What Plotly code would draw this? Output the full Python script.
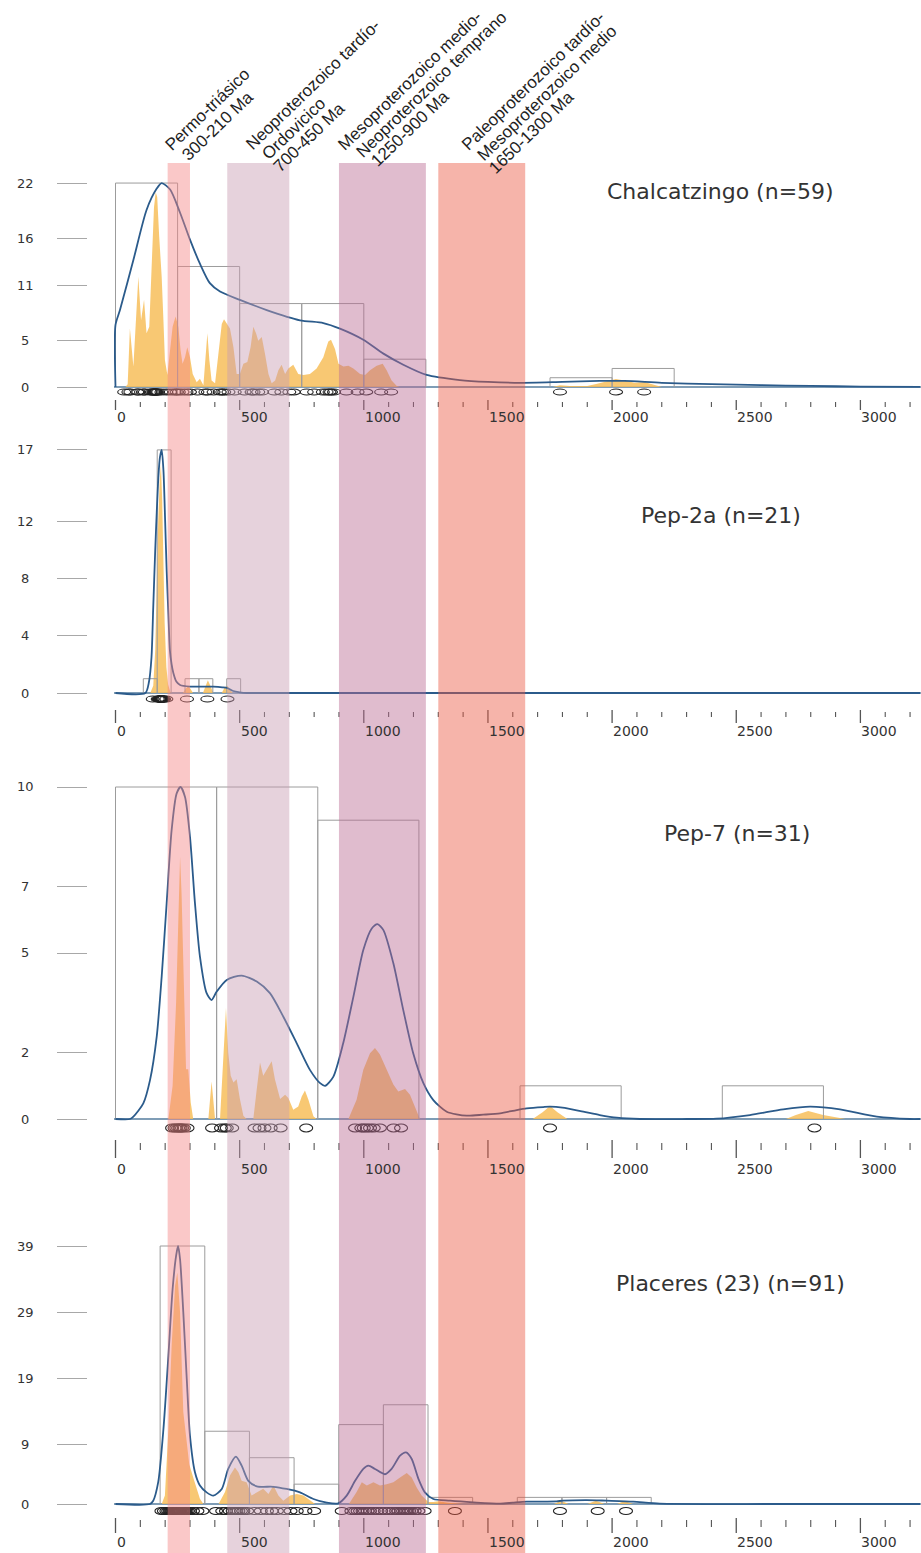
import math
import plotly.graph_objects as go

# ---------------- data ----------------
band_ranges = [(210, 300), (450, 700), (900, 1250), (1300, 1650)]
band_colors = ["rgb(244,132,132)", "rgb(199,155,177)", "rgb(186,106,146)", "rgb(235,88,66)"]
band_label_lines = [
    ["Permo-triásico", "300-210 Ma"],
    ["Neoproterozoico tardío-", "Ordovicico", "700-450 Ma"],
    ["Mesoproterozoico medio-", "Neoproterozoico temprano", "1250-900 Ma"],
    ["Paleoproterozoico tardío-", "Mesoproterozoico medio", "1650-1300 Ma"],
]
panel_titles = ["Chalcatzingo (n=59)", "Pep-2a (n=21)", "Pep-7 (n=31)", "Placeres (23) (n=91)"]

x_major = [0, 500, 1000, 1500, 2000, 2500, 3000]
x_minor = [v for v in range(100, 3300, 100) if v % 500]

# Panel 1 - Chalcatzingo
p1_ages = [35, 52, 60, 88, 92, 112, 118, 140, 146, 152, 155, 158, 160, 162, 164, 167, 172, 185, 205, 222, 238, 246,
           255, 270, 286, 300, 330, 362, 372, 395, 420, 430, 438, 455, 480,
           520, 548, 556, 575, 590, 640, 668, 700, 718,
           770, 800, 835, 850, 862, 868, 880, 930, 975,
           1010, 1070, 1110, 1790, 2016, 2129]
p1_bin_width = 250
p1_counts = [22, 13, 9, 9, 3, 0, 0, 1, 2]
p1_yticks = [0, 5, 11, 16, 22]
p1_kde = [(0, 0), (0, 6.7), (18, 8.3), (72, 13.7), (125, 19.1), (166, 21.4), (186, 22.0), (220, 21.3), (260, 18.8),
          (300, 15.9), (340, 13.3), (380, 11.2), (421, 10.3), (501, 9.4), (609, 8.3), (743, 7.2), (837, 6.9),
          (904, 6.3), (998, 5.1), (1079, 3.6), (1159, 2.4), (1253, 1.3), (1387, 0.75), (1500, 0.55), (1630, 0.45),
          (1800, 0.55), (1950, 0.65), (2050, 0.65), (2200, 0.45), (2400, 0.3), (2600, 0.2), (2800, 0.12),
          (3000, 0.05), (3240, 0.02)]
p1_pdp = [(40, 0), (49, 0.3), (58, 6.3), (72, 2.2), (92, 11.9), (103, 7.2), (115, 9.4), (125, 5.8), (136, 6.5),
          (146, 13.7), (155, 19.4), (162, 21.0), (168, 20.5), (176, 16.2), (186, 11.9), (193, 7.2), (199, 2.9),
          (209, 1.3), (219, 3.6), (230, 6.5), (242, 7.6), (253, 6.5), (262, 4.0), (270, 2.5), (280, 3.2),
          (289, 4.3), (300, 3.2), (311, 1.4), (327, 0.5), (340, 0.9), (354, 0.2), (363, 2.9), (370, 5.8),
          (378, 2.9), (387, 0.7), (401, 0.4), (414, 3.6), (428, 6.8), (437, 7.3), (448, 6.8), (461, 6.3),
          (475, 4.3), (488, 1.4), (501, 1.4), (515, 2.5), (531, 2.7), (544, 4.3), (555, 6.5), (566, 5.8),
          (575, 5.0), (589, 5.4), (602, 3.6), (616, 1.4), (629, 0.4), (643, 0.7), (656, 1.8), (669, 2.4),
          (683, 1.4), (696, 2.0), (716, 2.4), (736, 1.4), (757, 1.3), (783, 1.4), (810, 2.0), (837, 3.2),
          (857, 4.9), (868, 5.1), (884, 4.1), (898, 2.5), (918, 2.2), (938, 2.3), (958, 2.0), (985, 1.4),
          (1005, 1.3), (1025, 1.8), (1052, 2.3), (1076, 2.5), (1092, 1.8), (1112, 0.7), (1133, 0.1), (1145, 0),
          (1760, 0), (1790, 0.2), (1830, 0.1), (1900, 0.1), (1940, 0.35), (1980, 0.6), (2015, 0.85), (2050, 0.7),
          (2090, 0.45), (2130, 0.55), (2170, 0.2), (2200, 0)]

# Panel 2 - Pep-2a
p2_ages = [150, 170, 174, 176, 178, 180, 181, 182, 183, 184, 185, 186, 187, 188, 190, 192, 196, 205, 288, 370, 451]
p2_bin_width = 56
p2_counts = [0, 0, 1, 17, 0, 1, 1, 0, 1]
p2_yticks = [0, 4, 8, 12, 17]
p2_kde = [(0, 0), (120, 0), (135, 0.8), (145, 2.5), (152, 6.0), (160, 10.0), (166, 12.6), (173, 15.2), (179, 16.5),
          (186, 17.0), (193, 15.6), (200, 12.0), (206, 8.6), (213, 5.5), (219, 3.0), (226, 2.0), (233, 1.4),
          (245, 0.8), (260, 0.56), (300, 0.45), (350, 0.44), (394, 0.44), (430, 0.4), (450, 0.35), (474, 0.14),
          (500, 0.05), (528, 0), (3240, 0)]
p2_pdp = [(140, 0), (152, 0.5), (160, 3.0), (166, 8.0), (172, 12.0), (178, 14.8), (183, 16.0), (188, 13.5),
          (193, 8.5), (198, 4.9), (205, 1.8), (212, 0.6), (222, 0), (272, 0), (282, 0.3), (292, 0.45), (302, 0.3),
          (312, 0), (352, 0), (362, 0.5), (372, 0.9), (382, 0.5), (394, 0), (428, 0), (440, 0.4), (450, 0.5),
          (462, 0.2), (472, 0)]

# Panel 3 - Pep-7
p3_ages = [228, 238, 245, 252, 258, 262, 268, 275, 290, 389,
           425, 440, 448, 470, 560, 580, 600, 625, 665, 768,
           965, 990, 1000, 1012, 1025, 1040, 1065, 1120, 1150,
           1750, 2815]
p3_bin_width = 407.3
p3_counts = [10, 10, 9, 0, 1, 0, 1]
p3_yticks = [0, 2, 5, 7, 10]
p3_kde = [(0, 0), (58, 0), (72, 0.07), (112, 0.47), (139, 1.17), (166, 2.48), (186, 4.29), (206, 6.5), (226, 8.7),
          (246, 9.8), (262, 10.0), (280, 9.7), (300, 8.5), (320, 6.5), (340, 4.9), (367, 3.79), (387, 3.58),
          (407, 3.83), (448, 4.19), (508, 4.32), (569, 4.14), (622, 3.79), (676, 3.08), (730, 2.28), (783, 1.48),
          (824, 1.08), (844, 1.0), (877, 1.27), (917, 2.28), (958, 3.68), (998, 5.09), (1032, 5.74), (1055, 5.87),
          (1079, 5.69), (1119, 4.69), (1159, 3.28), (1199, 1.98), (1240, 1.08), (1280, 0.57), (1334, 0.22),
          (1414, 0.1), (1481, 0.13), (1549, 0.17), (1616, 0.27), (1656, 0.32), (1723, 0.36), (1750, 0.37),
          (1800, 0.34), (1884, 0.22), (1950, 0.12), (2019, 0.04), (2112, 0), (2300, 0), (2421, 0.01),
          (2555, 0.12), (2689, 0.29), (2797, 0.37), (2918, 0.29), (3066, 0.07), (3200, 0), (3240, 0)]
p3_pdp = [(213, 0), (230, 1.0), (244, 3.5), (253, 6.5), (260, 7.9), (266, 6.8), (276, 3.5), (284, 1.5), (293, 1.5),
          (303, 0.5), (313, 0), (374, 0), (387, 1.13), (401, 0), (421, 0), (434, 2.0), (445, 3.34), (454, 2.0),
          (464, 1.3), (475, 1.1), (488, 1.2), (501, 0.6), (515, 0.1), (528, 0), (555, 0), (569, 0.9), (582, 1.7),
          (595, 1.3), (609, 1.5), (629, 1.74), (642, 1.2), (663, 0.6), (683, 0.73), (696, 0.63), (716, 0.28),
          (736, 0.38), (750, 0.68), (763, 0.86), (777, 0.58), (797, 0.08), (810, 0), (938, 0), (971, 0.58),
          (998, 1.48), (1025, 1.98), (1045, 2.14), (1065, 1.94), (1092, 1.48), (1119, 1.04), (1139, 0.83),
          (1166, 0.9), (1186, 0.73), (1206, 0.38), (1226, 0), (1680, 0), (1720, 0.2), (1750, 0.39), (1780, 0.2),
          (1820, 0), (2700, 0), (2740, 0.12), (2790, 0.24), (2850, 0.12), (2940, 0)]

# Panel 4 - Placeres (23)
p4_ages = [185, 195, 205, 212, 218, 222, 226, 229, 232, 235, 237, 239, 241, 243, 245, 246, 248, 249, 250, 251,
           252, 253, 254, 255, 257, 259, 261, 263, 266, 269, 272, 276, 280, 286, 292, 300, 312, 330, 350,
           405, 430, 445, 460, 472, 480, 487, 495, 505, 515, 530,
           560, 585, 610, 630, 650, 680, 705,
           730, 765, 800,
           911, 950, 965, 975, 985, 995, 1005, 1015, 1025, 1040, 1055, 1070,
           1085, 1100, 1115, 1130, 1140, 1150, 1158, 1165, 1170, 1176, 1183, 1192, 1205, 1220, 1245,
           1367, 1790, 1942, 2056]
p4_bin_width = 179.8
p4_counts = [0, 39, 11, 7, 3, 12, 15, 1, 0, 1, 1, 1]
p4_yticks = [0, 9, 19, 29, 39]
p4_kde = [(0, 0), (139, 0), (152, 0.5), (172, 3.3), (193, 11.3), (213, 22.4), (230, 32.5), (244, 37.5), (252, 39.0),
          (260, 37.0), (273, 29.0), (287, 18.9), (300, 10.3), (320, 4.8), (340, 2.8), (367, 1.76), (394, 1.26),
          (428, 2.27), (454, 5.3), (485, 7.15), (508, 5.8), (535, 3.5), (569, 2.67), (636, 2.6), (689, 2.27),
          (743, 1.76), (797, 0.76), (851, 0.2), (897, 0.1), (931, 1.26), (965, 3.5), (998, 5.3), (1018, 5.8),
          (1045, 5.3), (1085, 4.5), (1112, 5.3), (1146, 7.3), (1170, 7.8), (1193, 6.8), (1220, 3.8), (1246, 1.76),
          (1280, 0.76), (1347, 0.5), (1441, 0.25), (1549, 0.05), (1600, 0.2), (1656, 0.35), (1777, 0.4),
          (1800, 0.5), (1897, 0.6), (1978, 0.5), (2085, 0.35), (2192, 0.05), (2661, 0), (3240, 0)]
p4_pdp = [(186, 0), (199, 1.3), (213, 11.3), (226, 23.9), (240, 33.0), (249, 35.0), (260, 29.0), (273, 13.9),
          (284, 10.3), (297, 6.0), (313, 4.0), (327, 2.3), (340, 0.8), (354, 0), (415, 0), (441, 1.8), (461, 4.3),
          (481, 5.5), (495, 4.8), (508, 3.5), (528, 3.3), (548, 1.3), (569, 1.8), (595, 2.3), (616, 1.5),
          (636, 2.8), (656, 1.3), (676, 0.5), (703, 1.3), (730, 1.5), (757, 1.3), (783, 0.5), (804, 0), (940, 0),
          (971, 1.8), (992, 3.3), (1012, 2.8), (1039, 3.3), (1065, 2.8), (1092, 3.0), (1119, 3.3), (1146, 4.0),
          (1173, 4.7), (1193, 4.0), (1213, 2.5), (1233, 1.3), (1260, 0.3), (1280, 0.3), (1300, 0.4), (1340, 0.2),
          (1400, 0), (1765, 0), (1795, 0.5), (1825, 0), (1900, 0), (1935, 0.5), (1970, 0), (2020, 0),
          (2050, 0.45), (2085, 0)]

panels = [
    dict(ages=p1_ages, bw=p1_bin_width, counts=p1_counts, yticks=p1_yticks, kde=p1_kde, pdp=p1_pdp),
    dict(ages=p2_ages, bw=p2_bin_width, counts=p2_counts, yticks=p2_yticks, kde=p2_kde, pdp=p2_pdp),
    dict(ages=p3_ages, bw=p3_bin_width, counts=p3_counts, yticks=p3_yticks, kde=p3_kde, pdp=p3_pdp),
    dict(ages=p4_ages, bw=p4_bin_width, counts=p4_counts, yticks=p4_yticks, kde=p4_kde, pdp=p4_pdp),
]

# ---------------- layout constants (pixels) ----------------
W, H = 921, 1553
X0_PX, PX_PER_MA = 115.5, 0.2483
X_LEFT_PX = 114
geom = [
    dict(base=387, top=163, scale=9.27, maj=(400, 410), mnr=(402, 407), lab=417, ell=392, ellh=6),
    dict(base=693, top=440, scale=14.3, maj=(710, 723), mnr=(712, 717), lab=731, ell=699, ellh=6),
    dict(base=1119, top=770, scale=33.2, maj=(1140, 1158), mnr=(1143, 1150), lab=1169, ell=1128, ellh=8),
    dict(base=1504, top=1230, scale=6.615, maj=(1518, 1533), mnr=(1520, 1527), lab=1542, ell=1511, ellh=7),
]
title_px = [(720, 191), (721, 515), (737, 833), (730, 1283)]
# rotated band labels: start of first line (px), per-line perpendicular offset and along-line offset
label_start_px = [(167, 149), (248, 148), (340, 148), (464, 148)]
label_perp = [0, 18, 35]
label_along = [[0, 5], [0, 5, 4], [0, 8, 12], [0, 3, 3]]
LABEL_ANGLE = 44
LABEL_FS = 17
BAND_TOP_PX = 163
ELL_HALF_W = 6.5 / PX_PER_MA


def py(p):
    return 1 - p / H


xmin = (X_LEFT_PX - X0_PX) / PX_PER_MA
xmax = (W - X0_PX) / PX_PER_MA

ORANGE = "rgba(247,190,90,0.85)"
BLUE = "#2b5b8b"
BOX = "#9c9c9c"

fig = go.Figure()
shapes = []
annotations = []
layout = {}

for k, (pan, g) in enumerate(zip(panels, geom), start=1):
    xa = "x" if k == 1 else f"x{k}"
    ya = "y" if k == 1 else f"y{k}"
    # PDP (orange)
    fig.add_trace(go.Scatter(x=[a for a, _ in pan["pdp"]], y=[v for _, v in pan["pdp"]],
                             mode="lines", line=dict(width=0, color=ORANGE), fill="tozeroy",
                             fillcolor=ORANGE, xaxis=xa, yaxis=ya, hoverinfo="skip", showlegend=False))
    # histogram boxes
    bx, by = [], []
    for i, c in enumerate(pan["counts"]):
        if c <= 0:
            continue
        x0, x1 = i * pan["bw"], (i + 1) * pan["bw"]
        bx += [x0, x0, x1, x1, None]
        by += [0, c, c, 0, None]
    fig.add_trace(go.Scatter(x=bx, y=by, mode="lines", line=dict(width=1, color=BOX),
                             xaxis=xa, yaxis=ya, hoverinfo="skip", showlegend=False))
    # KDE (blue)
    fig.add_trace(go.Scatter(x=[a for a, _ in pan["kde"]], y=[v for _, v in pan["kde"]],
                             mode="lines", line=dict(width=1.8, color=BLUE, shape="spline", smoothing=0.7),
                             xaxis=xa, yaxis=ya, hoverinfo="skip", showlegend=False))

    layout[("xaxis" if k == 1 else f"xaxis{k}")] = dict(
        domain=[X_LEFT_PX / W, 1], range=[xmin, xmax], visible=False, anchor=ya, fixedrange=True)
    layout[("yaxis" if k == 1 else f"yaxis{k}")] = dict(
        domain=[py(g["base"] + 3), py(g["top"])],
        range=[-3 / g["scale"], (g["base"] - g["top"]) / g["scale"]],
        anchor="free", position=87 / W, ticks="outside", ticklen=30, tickwidth=1, tickcolor="#a8a8a8",
        tickvals=pan["yticks"], showticklabels=False, showgrid=False, showline=False, fixedrange=True,
        zeroline=True, zerolinecolor="#7f9db6", zerolinewidth=1.3)

    # y tick labels
    for v in pan["yticks"]:
        annotations.append(dict(x=25 / W, xref="paper", y=v, yref=ya, text=str(v), showarrow=False,
                                xanchor="center", yanchor="middle",
                                font=dict(family="DejaVu Sans", size=13, color="#333")))
    # x ticks
    for t in x_major:
        shapes.append(dict(type="line", xref=xa, yref="paper", x0=t, x1=t, y0=py(g["maj"][1]), y1=py(g["maj"][0]),
                           line=dict(color="#555", width=1.3)))
        annotations.append(dict(x=t, xref=xa, y=py(g["lab"]), yref="paper", text=str(t), showarrow=False,
                                xanchor="left", yanchor="middle", xshift=-1,
                                font=dict(family="DejaVu Sans", size=14, color="#333")))
    for t in x_minor:
        shapes.append(dict(type="line", xref=xa, yref="paper", x0=t, x1=t, y0=py(g["mnr"][1]), y1=py(g["mnr"][0]),
                           line=dict(color="#555", width=1.1)))
    # data-point ellipses
    for a in pan["ages"]:
        shapes.append(dict(type="circle", xref=xa, yref="paper", x0=a - ELL_HALF_W, x1=a + ELL_HALF_W,
                           y0=py(g["ell"] + g["ellh"] / 2), y1=py(g["ell"] - g["ellh"] / 2),
                           line=dict(color="#222", width=1.1)))
    # title
    tx, ty = title_px[k - 1]
    annotations.append(dict(x=tx / W, y=py(ty), xref="paper", yref="paper", text=panel_titles[k - 1],
                            showarrow=False, xanchor="center", yanchor="middle",
                            font=dict(family="DejaVu Sans", size=22, color="#333")))

# colored age bands (drawn over everything)
for (a0, a1), col in zip(band_ranges, band_colors):
    shapes.append(dict(type="rect", xref="x", yref="paper", x0=a0, x1=a1, y0=0, y1=py(BAND_TOP_PX),
                       fillcolor=col, opacity=0.45, line=dict(width=0), layer="above"))

# rotated band labels, one annotation per line
s, c = math.sin(math.radians(LABEL_ANGLE)), math.cos(math.radians(LABEL_ANGLE))
box_h = 1.3 * LABEL_FS + 2
desc = 0.72 * LABEL_FS
for lines, (x0p, y0p), along in zip(band_label_lines, label_start_px, label_along):
    for i, txt in enumerate(lines):
        sx = x0p + label_perp[i] * s + along[i] * c
        sy = y0p + label_perp[i] * c - along[i] * s
        cx, cy = sx + desc * s, sy + desc * c          # bottom-left corner of the text box
        annotations.append(dict(x=(cx - box_h * s) / W, y=py(cy), xref="paper", yref="paper", text=txt,
                                showarrow=False, textangle=-LABEL_ANGLE, xanchor="left", yanchor="bottom",
                                font=dict(family="Liberation Sans", size=LABEL_FS, color="#1e1e1e")))

fig.update_layout(width=W, height=H, margin=dict(l=0, r=0, t=0, b=0),
                  paper_bgcolor="white", plot_bgcolor="rgba(0,0,0,0)", hovermode=False,
                  shapes=shapes, annotations=annotations, showlegend=False, **layout)

fig.write_html("out.html", config={"displayModeBar": False, "staticPlot": True},
               post_script="document.body.style.margin='0';document.body.style.overflow='hidden';")
